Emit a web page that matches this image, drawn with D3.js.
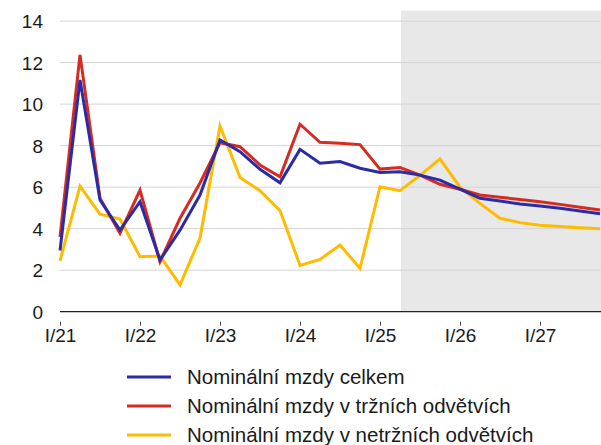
<!DOCTYPE html>
<html>
<head>
<meta charset="utf-8">
<script src="https://cdn.jsdelivr.net/npm/d3@7"></script>
<style>
  body { margin: 0; background: #fff; }
  svg text { font-family: "Liberation Sans", Arial, sans-serif; fill: #1a1a1a; }
</style>
</head>
<body>
<svg id="chart" width="601" height="445"></svg>
<script>
// ctvrtleti I/21 .. IV/27
var quarters = [
    "I/21", "II/21", "III/21", "IV/21",
    "I/22", "II/22", "III/22", "IV/22",
    "I/23", "II/23", "III/23", "IV/23",
    "I/24", "II/24", "III/24", "IV/24",
    "I/25", "II/25", "III/25", "IV/25",
    "I/26", "II/26", "III/26", "IV/26",
    "I/27", "II/27", "III/27", "IV/27"
];
var tickLabels = ["I/21", "I/22", "I/23", "I/24", "I/25", "I/26", "I/27"];
var yTicks = [0, 2, 4, 6, 8, 10, 12, 14];
var forecastFrom = "II/25";

var celkem  = [2.95, 11.16, 5.38, 3.93, 5.30, 2.49, 3.93, 5.62, 8.27, 7.71, 6.86, 6.21, 7.82, 7.15,
               7.23, 6.91, 6.71, 6.74, 6.58, 6.34, 5.90, 5.46, 5.33, 5.19, 5.09, 4.98, 4.85, 4.72];
var trzni   = [3.60, 12.37, 5.47, 3.78, 5.86, 2.41, 4.50, 6.20, 8.14, 7.95, 7.07, 6.50, 9.03, 8.16,
               8.11, 8.05, 6.87, 6.95, 6.58, 6.14, 5.90, 5.62, 5.51, 5.41, 5.30, 5.17, 5.03, 4.90];
var netrzni = [2.45, 6.05, 4.70, 4.46, 2.65, 2.68, 1.29, 3.55, 8.95, 6.47, 5.83, 4.87, 2.23, 2.52,
               3.21, 2.09, 6.02, 5.83, 6.57, 7.36, 6.00, 5.22, 4.50, 4.29, 4.16, 4.10, 4.05, 4.00];

var series = [
    { name: "Nominální mzdy celkem",                values: celkem,  color: "#2a2ba6" },
    { name: "Nominální mzdy v tržních odvětvích",   values: trzni,   color: "#d52b22" },
    { name: "Nominální mzdy v netržních odvětvích", values: netrzni, color: "#ffbb00" }
];

var svg = d3.select("#chart"),
    width = 601,
    plotLeft = 60, plotRight = 600,
    plotTop = 10.7, plotBottom = 311.7;

var x = d3.scalePoint().domain(quarters).range([plotLeft, plotRight]);
var y = d3.scaleLinear().domain([0, 14.5]).range([plotBottom, plotTop]);

// prognoza - sede pozadi
svg.append("rect")
    .attr("x", x(forecastFrom) + 1)
    .attr("y", y(14.5))
    .attr("width", width - x(forecastFrom) - 1)
    .attr("height", y(0) - y(14.5))
    .attr("fill", "#e8e8e8");

// mrizka
svg.append("g").selectAll("line")
    .data(yTicks.filter(function(d) { return d > 0; }))
    .enter().append("line")
    .attr("x1", plotLeft).attr("x2", width)
    .attr("y1", function(d) { return y(d); })
    .attr("y2", function(d) { return y(d); })
    .attr("stroke", "#d4d4d4")
    .attr("stroke-width", 1);

// osa y - popisky
var yAxis = svg.append("g")
    .attr("transform", "translate(43,0)")
    .call(d3.axisLeft(y).tickValues(yTicks).tickSize(0).tickPadding(0));
yAxis.select(".domain").remove();
yAxis.selectAll("text").style("font-size", "19px").attr("dy", "0.34em");

// osa x
svg.append("line")
    .attr("x1", plotLeft).attr("x2", width)
    .attr("y1", y(0)).attr("y2", y(0))
    .attr("stroke", "#222").attr("stroke-width", 1.2);

var xAxis = svg.append("g")
    .attr("transform", "translate(0," + (y(0) + 10) + ")")
    .call(d3.axisBottom(x).tickValues(tickLabels).tickSize(4).tickPadding(3));
xAxis.select(".domain").remove();
xAxis.selectAll(".tick line").attr("stroke", "#444");
xAxis.selectAll("text").style("font-size", "19px");

// krivky
var line = d3.line()
    .x(function(d, i) { return x(quarters[i]); })
    .y(function(d) { return y(d); });

svg.append("g").selectAll("path")
    .data([series[2], series[1], series[0]])
    .enter().append("path")
    .attr("d", function(s) { return line(s.values); })
    .attr("fill", "none")
    .attr("stroke", function(s) { return s.color; })
    .attr("stroke-width", 3);

// legenda
var legend = svg.append("g").selectAll("g")
    .data(series)
    .enter().append("g")
    .attr("transform", function(d, i) { return "translate(127," + (377 + i * 29) + ")"; });

legend.append("line")
    .attr("x1", 0).attr("x2", 44)
    .attr("stroke", function(d) { return d.color; })
    .attr("stroke-width", 3);

legend.append("text")
    .attr("x", 60)
    .attr("dy", "0.35em")
    .style("font-size", "20.5px")
    .text(function(d) { return d.name; });
</script>
</body>
</html>
